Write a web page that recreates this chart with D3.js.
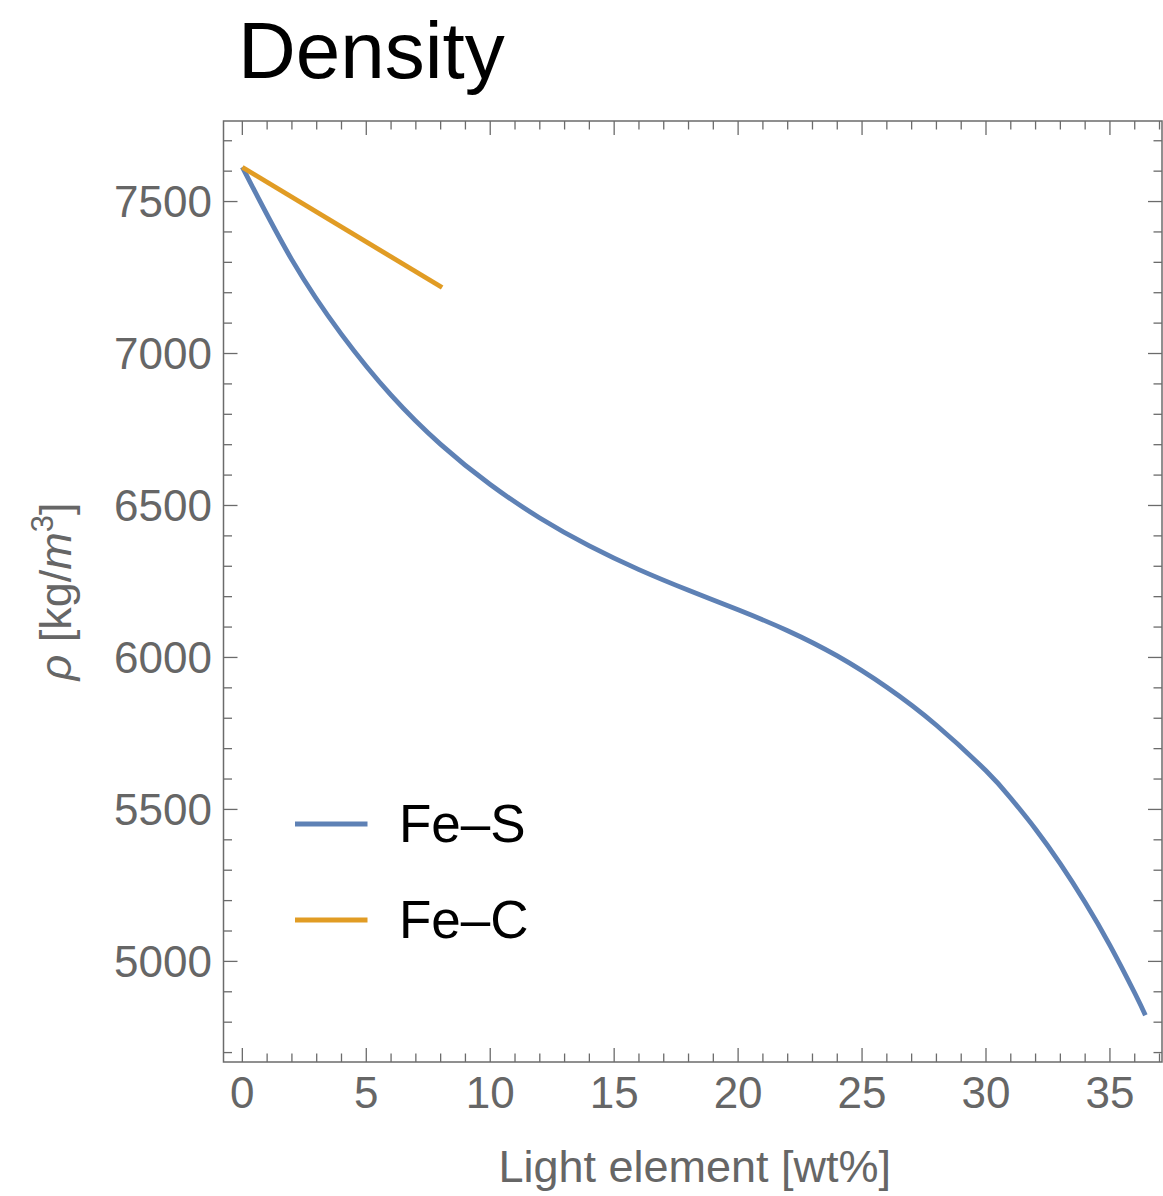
<!DOCTYPE html>
<html>
<head>
<meta charset="utf-8">
<script src="https://cdn.jsdelivr.net/npm/d3@7"></script>
<style>
  html, body { margin: 0; padding: 0; background: #fff; }
  svg { display: block; font-family: "Liberation Sans", Arial, Helvetica, sans-serif; }
</style>
</head>
<body>
<svg id="chart" width="1163" height="1196"></svg>
<script>
// ---- data ----
const sulfurWt  = [0, 2, 4, 6, 8, 10, 12, 14, 16, 18, 20, 22, 24, 26, 28, 30, 31, 32, 33, 34, 35, 36, 36.43];
const sulfurRho = [7613, 7308, 7063, 6863, 6701, 6569, 6459, 6367, 6289, 6221, 6157, 6088, 6005, 5902, 5777, 5627, 5537, 5435, 5321, 5194, 5053, 4896, 4823];
const carbonWt  = [0, 8.06];
const carbonRho = [7613, 7217];
const seriesNames = ["Fe\u2013S", "Fe\u2013C"];
const seriesColors = ["#5e81b5", "#e19c24"];
const xMajorTicks = [0, 5, 10, 15, 20, 25, 30, 35];
const yMajorTicks = [5000, 5500, 6000, 6500, 7000, 7500];
const xDomain = [-0.76, 37.1];
const yDomain = [4669, 7765];

// ---- layout ----
const L = 223.5, R = 1162, T = 121, B = 1062;
const axisColor = "#6b6b6b";
const labelColor = "#666666";

const svg = d3.select("#chart");
const x = d3.scaleLinear().domain(xDomain).range([L, R]);
const y = d3.scaleLinear().domain(yDomain).range([B, T]);

const xMinor = d3.range(0, 38, 1).filter(v => v >= xDomain[0] && v <= xDomain[1] && !xMajorTicks.includes(v));
const yMinor = d3.range(4700, 7800, 100).filter(v => v >= yDomain[0] && v <= yDomain[1] && !yMajorTicks.includes(v));

const MAJ = 14, MIN = 8.5;
const tickG = svg.append("g").attr("stroke", axisColor).attr("stroke-width", 1.3);

function vTicks(vals, len) {
  vals.forEach(v => {
    const px = x(v);
    tickG.append("line").attr("x1", px).attr("x2", px).attr("y1", B).attr("y2", B - len);
    tickG.append("line").attr("x1", px).attr("x2", px).attr("y1", T).attr("y2", T + len);
  });
}
function hTicks(vals, len) {
  vals.forEach(v => {
    const py = y(v);
    tickG.append("line").attr("x1", L).attr("x2", L + len).attr("y1", py).attr("y2", py);
    tickG.append("line").attr("x1", R).attr("x2", R - len).attr("y1", py).attr("y2", py);
  });
}
vTicks(xMajorTicks, MAJ);
vTicks(xMinor, MIN);
hTicks(yMajorTicks, MAJ);
hTicks(yMinor, MIN);

// frame
svg.append("rect")
  .attr("x", L).attr("y", T).attr("width", R - L).attr("height", B - T)
  .attr("fill", "none").attr("stroke", axisColor).attr("stroke-width", 1.5);

// tick labels
svg.append("g").selectAll("text").data(xMajorTicks).join("text")
  .attr("x", d => x(d)).attr("y", 1108)
  .attr("text-anchor", "middle")
  .attr("font-size", 44).attr("fill", labelColor)
  .text(d => d);

svg.append("g").selectAll("text").data(yMajorTicks).join("text")
  .attr("x", 212).attr("y", d => y(d) + 15.8)
  .attr("text-anchor", "end")
  .attr("font-size", 44).attr("fill", labelColor)
  .text(d => d);

// axis labels
svg.append("text")
  .attr("x", (L + R) / 2 + 2).attr("y", 1182)
  .attr("text-anchor", "middle")
  .attr("font-size", 45).attr("fill", labelColor)
  .text("Light element [wt%]");

const yl = svg.append("text")
  .attr("transform", `translate(71, ${(T + B) / 2}) rotate(-90)`)
  .attr("text-anchor", "middle")
  .attr("font-size", 45).attr("fill", labelColor);
yl.append("tspan").attr("font-style", "italic").text("\u03C1");
yl.append("tspan").text(" [kg/");
yl.append("tspan").attr("font-style", "italic").text("m");
yl.append("tspan").attr("font-size", 31).attr("dy", -18).text("3");
yl.append("tspan").attr("dy", 18).text("]");

// title
svg.append("text")
  .attr("x", 238).attr("y", 78)
  .attr("font-size", 80).attr("fill", "#000")
  .text("Density");

// curves
svg.append("clipPath").attr("id", "plotclip")
  .append("rect").attr("x", L).attr("y", T).attr("width", R - L).attr("height", B - T);

const line = d3.line().x(d => x(d[0])).y(d => y(d[1])).curve(d3.curveNatural);
const sulfur = sulfurWt.map((w, i) => [w, sulfurRho[i]]);
const carbon = carbonWt.map((w, i) => [w, carbonRho[i]]);

const plotG = svg.append("g").attr("clip-path", "url(#plotclip)");
plotG.append("path").datum(sulfur).attr("d", line)
  .attr("fill", "none").attr("stroke", seriesColors[0]).attr("stroke-width", 4.8);
plotG.append("path").datum(carbon).attr("d", line)
  .attr("fill", "none").attr("stroke", seriesColors[1]).attr("stroke-width", 4.8);

// legend
const legendY = [824, 920];
seriesNames.forEach((name, i) => {
  svg.append("line")
    .attr("x1", 295).attr("x2", 367.5)
    .attr("y1", legendY[i]).attr("y2", legendY[i])
    .attr("stroke", seriesColors[i]).attr("stroke-width", 4.8);
  svg.append("text")
    .attr("x", 399).attr("y", legendY[i] + 18)
    .attr("font-size", 53).attr("fill", "#000")
    .text(name);
});
</script>
</body>
</html>
